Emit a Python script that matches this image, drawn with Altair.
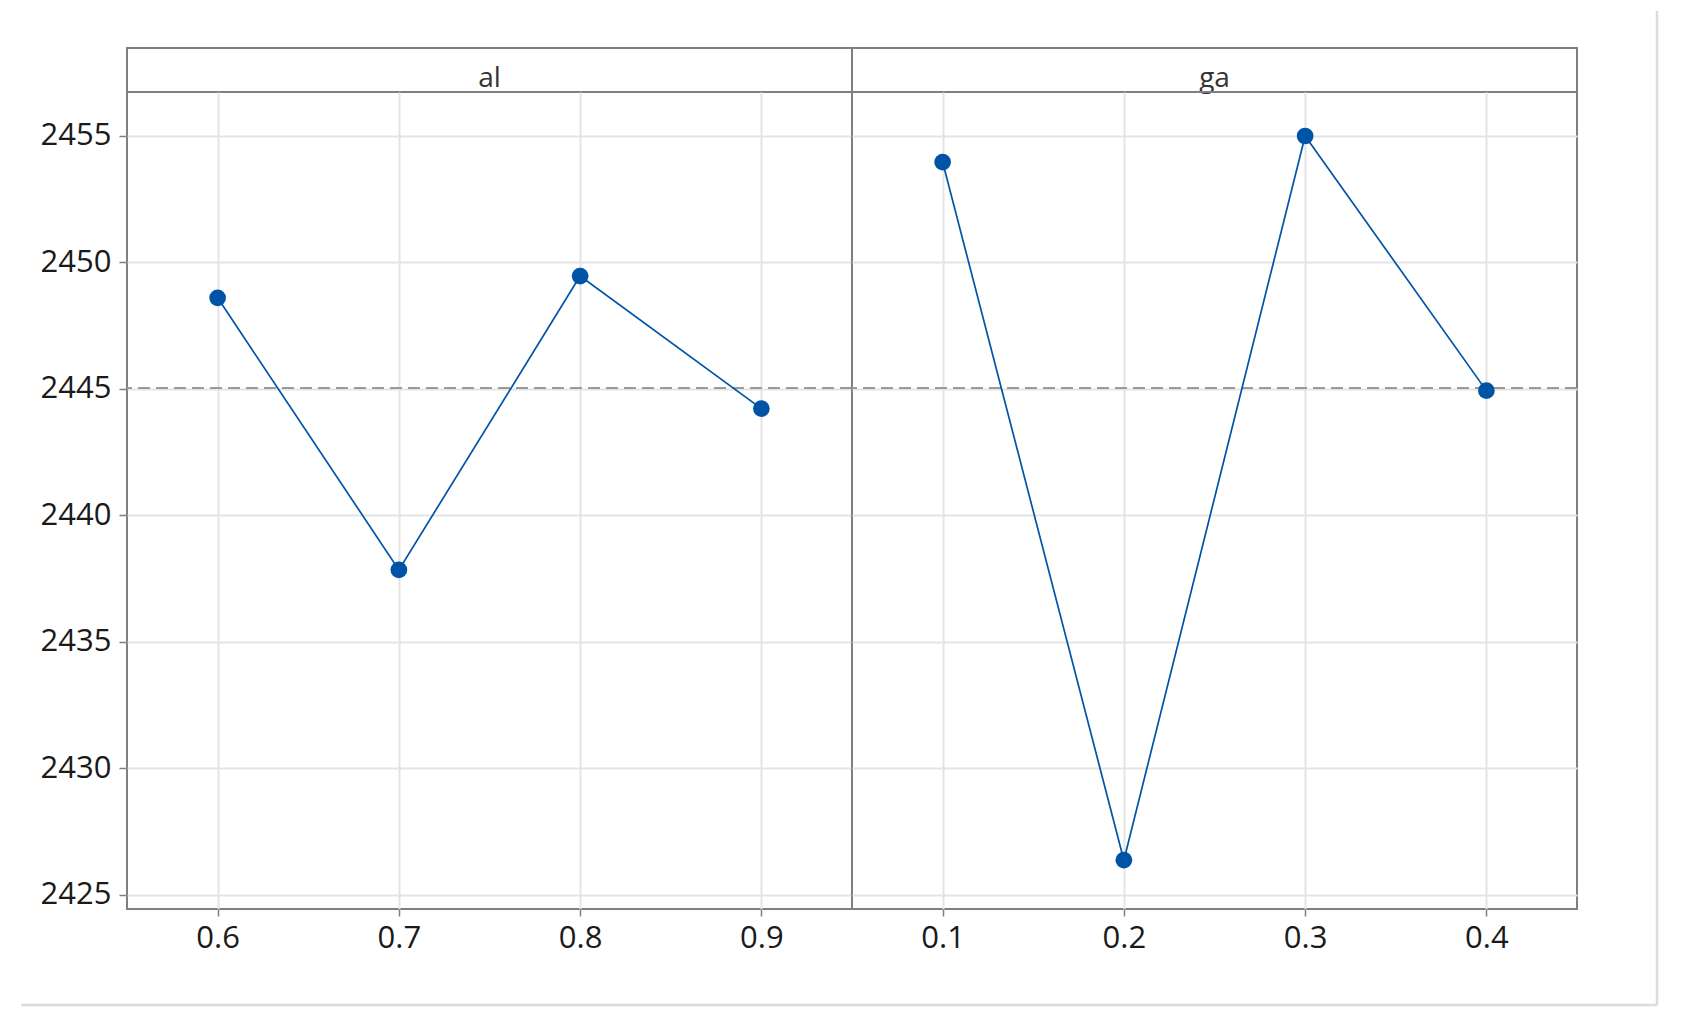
import altair as alt
import pandas as pd

# ---- data ----
panel_names = ["al", "ga"]
al_levels = [0.6, 0.7, 0.8, 0.9]
al_means = [2448.60, 2437.84, 2449.46, 2444.22]
ga_levels = [0.1, 0.2, 0.3, 0.4]
ga_means = [2453.97, 2426.36, 2455.00, 2444.93]
grand_mean = 2445.03
y_ticks = [2425, 2430, 2435, 2440, 2445, 2450, 2455]

# ---- styling / layout ----
W, H, STRIP = 725, 817, 44
Y_DOMAIN = [2424.43, 2456.74]
LINE = "#0054a6"
FONT = "Open Sans"
FRAME = "#dcdcdc"


def plot_panel(levels, means, x_domain, show_y, frame=False):
    df = pd.DataFrame({"level": levels, "mean": means})
    x = alt.X(
        "level:Q",
        scale=alt.Scale(domain=x_domain, nice=False, zero=False),
        axis=alt.Axis(values=levels, format=".1f", title=None, tickSize=7,
                      labelPadding=7, grid=True),
    )
    if show_y:
        yaxis = alt.Axis(values=y_ticks, format="d", title=None, tickSize=8,
                         labelPadding=8, grid=True)
    else:
        yaxis = alt.Axis(values=y_ticks, title=None, grid=True, labels=False,
                         ticks=False, domain=False)
    y = alt.Y("mean:Q", scale=alt.Scale(domain=Y_DOMAIN, nice=False, zero=False), axis=yaxis)

    base = alt.Chart(df)
    ref = alt.Chart(pd.DataFrame({"m": [grand_mean]})).mark_rule(
        color="#9a9a9a", strokeDash=[12, 6], strokeWidth=2
    ).encode(y=alt.datum(grand_mean))
    line = base.mark_line(color=LINE, strokeWidth=1.7).encode(x=x, y=y)
    pts = base.mark_circle(color=LINE, size=280, opacity=1).encode(x=x, y=y)
    layers = [ref, line, pts]

    if frame:
        # light outer figure frame (decoration only)
        fdf = pd.DataFrame({"k": [0]})
        fv = alt.Chart(fdf).mark_rule(color=FRAME, strokeWidth=2.5, clip=False).encode(
            x=alt.value(805), y=alt.value(-81), y2=alt.value(913))
        fh = alt.Chart(fdf).mark_rule(color=FRAME, strokeWidth=2.5, clip=False).encode(
            x=alt.value(-831), x2=alt.value(805), y=alt.value(913))
        layers += [fv, fh]
    return alt.layer(*layers).properties(width=W, height=H)


def strip_panel(name):
    return alt.Chart(pd.DataFrame({"label": [name]})).mark_text(
        font=FONT, fontSize=28, color="#333333", baseline="alphabetic"
    ).encode(text="label:N", x=alt.value(W / 2), y=alt.value(39)).properties(
        width=W, height=STRIP)


chart = alt.concat(
    strip_panel(panel_names[0]),
    strip_panel(panel_names[1]),
    plot_panel(al_levels, al_means, [0.55, 0.95], True),
    plot_panel(ga_levels, ga_means, [0.05, 0.45], False, frame=True),
    columns=2, spacing=0, bounds="flush",
).resolve_scale(
    x="independent"
).properties(
    padding={"left": 10, "top": 0, "right": 5, "bottom": 5},
    background="white",
).configure_view(
    stroke="#7f7f7f", strokeWidth=2
).configure_axis(
    labelFont=FONT, labelFontSize=31, labelColor="#1a1a1a",
    tickColor="#7f7f7f", tickWidth=1.5,
    gridColor="#e4e4e4", gridWidth=2, domain=False,
)

chart.save("out.html", embed_options={"renderer": "svg", "actions": False})
